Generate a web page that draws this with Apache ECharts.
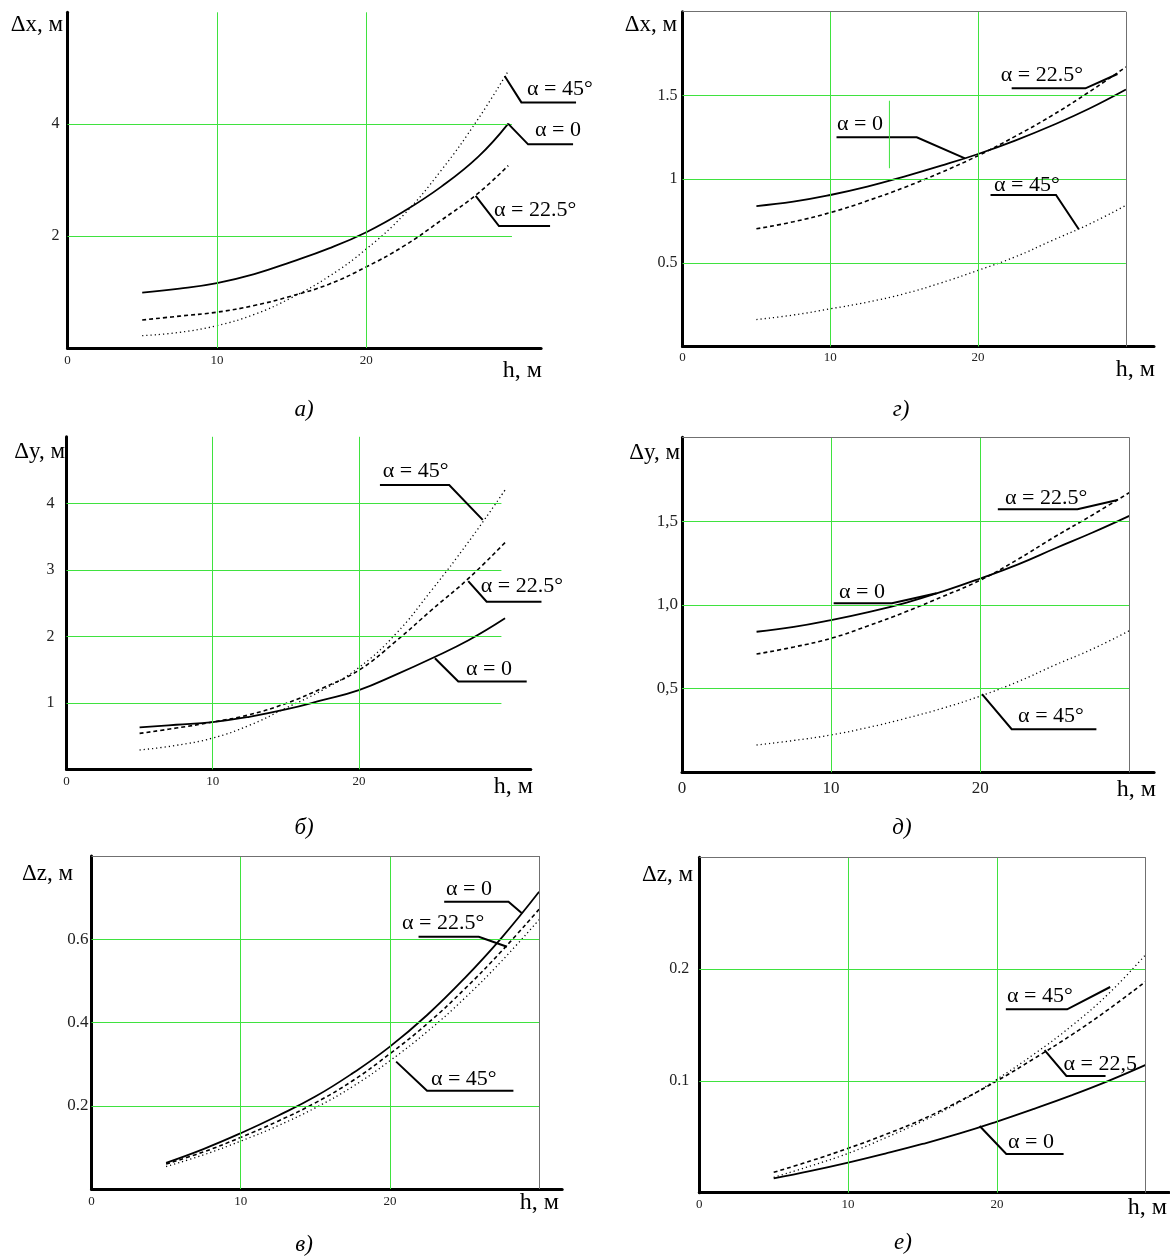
<!DOCTYPE html>
<html><head><meta charset="utf-8">
<script src="https://cdn.jsdelivr.net/npm/echarts@6/dist/echarts.min.js"></script>
<style>html,body{margin:0;padding:0;background:#fff}#c{width:1170px;height:1259px}</style>
</head><body><div id="c"></div>
<script>
// ---------- data ----------
const H   = [5, 7.5, 10, 12.5, 15, 17.5, 20, 22.5, 25, 27.5, 30];
const H_a = [5, 7.5, 10, 12.5, 15, 17.5, 20, 22.5, 25, 27.5, 29.5];

// а) Δx
const a_alpha0   = [0.99, 1.06, 1.16, 1.32, 1.54, 1.78, 2.07, 2.44, 2.88, 3.42, 4.01];
const a_alpha225 = [0.50, 0.57, 0.64, 0.76, 0.93, 1.14, 1.45, 1.82, 2.28, 2.77, 3.26];
const a_alpha45  = [0.22, 0.28, 0.40, 0.60, 0.90, 1.28, 1.77, 2.38, 3.17, 4.10, 4.95];
// г) Δx
const g_alpha0   = [0.839, 0.865, 0.905, 0.955, 1.015, 1.08, 1.15, 1.23, 1.32, 1.42, 1.535];
const g_alpha225 = [0.703, 0.745, 0.80, 0.87, 0.95, 1.04, 1.14, 1.255, 1.38, 1.52, 1.67];
const g_alpha45  = [0.161, 0.188, 0.225, 0.265, 0.315, 0.38, 0.455, 0.535, 0.633, 0.73, 0.843];
// б) Δy
const b_alpha0   = [0.63, 0.67, 0.71, 0.79, 0.90, 1.04, 1.19, 1.42, 1.67, 1.94, 2.27];
const b_alpha225 = [0.54, 0.62, 0.71, 0.82, 0.99, 1.22, 1.49, 1.92, 2.40, 2.87, 3.41];
const b_alpha45  = [0.29, 0.36, 0.47, 0.66, 0.92, 1.19, 1.53, 2.03, 2.70, 3.42, 4.20];
// д) Δy
const d_alpha0   = [0.839, 0.868, 0.909, 0.957, 1.012, 1.08, 1.157, 1.24, 1.336, 1.43, 1.531];
const d_alpha225 = [0.706, 0.748, 0.80, 0.875, 0.958, 1.05, 1.147, 1.27, 1.406, 1.535, 1.67];
const d_alpha45  = [0.163, 0.19, 0.223, 0.268, 0.322, 0.383, 0.455, 0.54, 0.64, 0.735, 0.845];
// в) Δz
const v_alpha0   = [0.063, 0.096, 0.134, 0.176, 0.222, 0.278, 0.342, 0.418, 0.506, 0.604, 0.714];
const v_alpha225 = [0.060, 0.089, 0.124, 0.163, 0.207, 0.260, 0.325, 0.397, 0.480, 0.572, 0.672];
const v_alpha45  = [0.054, 0.082, 0.115, 0.152, 0.195, 0.246, 0.308, 0.378, 0.458, 0.548, 0.647];
// е) Δz
const e_alpha0   = [0.0128, 0.0195, 0.0269, 0.035, 0.0436, 0.053, 0.0636, 0.075, 0.087, 0.100, 0.1143];
const e_alpha225 = [0.0182, 0.0285, 0.0397, 0.052, 0.0657, 0.082, 0.100, 0.120, 0.141, 0.164, 0.189];
const e_alpha45  = [0.0137, 0.024, 0.0352, 0.049, 0.064, 0.081, 0.1015, 0.124, 0.149, 0.178, 0.213];

const xGrid = [10, 20];

// ---------- layout / styling ----------
const FONT = '"Liberation Serif", "Times New Roman", serif';
const GREEN = '#3fe23f', BORDER = '#707070';
const lineStyles = [
  {type: 'solid', width: 1.8},
  {type: [4, 3], width: 1.6},
  {type: [1.2, 3], width: 1.3}
];
const commaFmt = v => v.toFixed(1).replace('.', ',');

const panels = [
  { grid:{left:67.5, top:12.3, width:473.6, height:335.7}, xMax:31.7, yMax:6, yInt:2, box:false, gridEnd:29.75,
    yLabMargin:8, yLabSize:16, xLabSize:13, xLabMargin:6, h:H_a, series:[a_alpha0, a_alpha225, a_alpha45],
    notes:[
      {text:'α = 45°',   pts:[[29.26,4.86],[30.38,4.39],[34.04,4.39]], at:[30.76,4.63]},
      {text:'α = 0',     pts:[[29.49,4.01],[30.83,3.64],[33.84,3.64]], at:[31.29,3.90]},
      {text:'α = 22.5°', pts:[[27.32,2.72],[28.88,2.18],[32.30,2.18]], at:[28.55,2.47]}
    ]},
  { grid:{left:682.5, top:11.7, width:471.5, height:334.8}, xMax:31.9, yMax:2, yInt:0.5, box:true, gridEnd:30,
    yLabMargin:5, yLabSize:16, xLabSize:13, xLabMargin:5, h:H, series:[g_alpha0, g_alpha225, g_alpha45],
    notes:[
      {text:'α = 22.5°', pts:[[22.27,1.542],[27.26,1.542],[29.43,1.628]], at:[21.53,1.622]},
      {text:'α = 0',     pts:[[10.42,1.25],[15.85,1.25],[19.11,1.124]], at:[10.45,1.325]},
      {text:'α = 45°',   pts:[[20.84,0.905],[25.27,0.905],[26.81,0.70]], at:[21.08,0.965]},
      {pts:[[14.0,1.468],[14.0,1.065]], color:GREEN, width:1}
    ]},
  { grid:{left:66.5, top:436.8, width:464.3, height:332.5}, xMax:31.76, yMax:5, yInt:1, box:false, gridEnd:29.75,
    yLabMargin:12, yLabSize:16, xLabSize:13, xLabMargin:6, h:H, series:[b_alpha0, b_alpha225, b_alpha45],
    notes:[
      {text:'α = 45°',   pts:[[21.44,4.275],[26.18,4.275],[28.47,3.75]], at:[21.63,4.475]},
      {text:'α = 22.5°', pts:[[27.48,2.83],[28.74,2.52],[32.49,2.52]], at:[28.34,2.746]},
      {text:'α = 0',     pts:[[25.2,1.67],[26.8,1.32],[31.48,1.32]], at:[27.33,1.504]}
    ]},
  { grid:{left:682, top:437.3, width:472.1, height:335}, xMax:31.66, yMax:2, yInt:0.5, box:true, gridEnd:30,
    yLabMargin:4, yLabSize:17, xLabSize:17, xLabMargin:8, yFmt:commaFmt, h:H, series:[d_alpha0, d_alpha225, d_alpha45],
    notes:[
      {text:'α = 22.5°', pts:[[21.18,1.57],[26.52,1.57],[29.21,1.626]], at:[21.66,1.636]},
      {text:'α = 0',     pts:[[10.17,1.009],[14.08,1.009],[17.07,1.069]], at:[10.53,1.078]},
      {text:'α = 45°',   pts:[[20.12,0.467],[22.11,0.257],[27.79,0.257]], at:[22.54,0.332]}
    ]},
  { grid:{left:91.5, top:856, width:470.7, height:333}, xMax:31.55, yMax:0.8, yInt:0.2, box:true, gridEnd:30,
    yLabMargin:3, yLabSize:17, xLabSize:13, xLabMargin:6, h:H, series:[v_alpha0, v_alpha225, v_alpha45],
    notes:[
      {text:'α = 0',     pts:[[23.64,0.69],[27.95,0.69],[28.87,0.662]], at:[23.76,0.72]},
      {text:'α = 22.5°', pts:[[21.92,0.606],[25.96,0.606],[27.85,0.582]], at:[20.81,0.638]},
      {text:'α = 45°',   pts:[[20.42,0.306],[22.49,0.236],[28.28,0.236]], at:[22.75,0.264]}
    ]},
  { grid:{left:699.3, top:857.3, width:469.8, height:335.4}, xMax:31.57, yMax:0.3, yInt:0.1, box:true, gridEnd:30,
    yLabMargin:10, yLabSize:16, xLabSize:13, xLabMargin:5, h:H, series:[e_alpha0, e_alpha225, e_alpha45],
    notes:[
      {text:'α = 45°',  pts:[[20.6,0.164],[24.72,0.164],[27.61,0.184]], at:[20.68,0.1753]},
      {text:'α = 22,5', pts:[[23.2,0.1276],[24.67,0.1044],[27.3,0.1044]], at:[24.48,0.1151]},
      {text:'α = 0',    pts:[[18.84,0.0597],[20.63,0.0346],[24.48,0.0346]], at:[20.75,0.0456]}
    ]}
];

const texts = [
  {t:'Δx, м', x:63,   y:25,   a:'right', s:23},
  {t:'Δx, м', x:677,  y:25,   a:'right', s:23},
  {t:'Δy, м', x:65,   y:452,  a:'right', s:23},
  {t:'Δy, м', x:680,  y:453,  a:'right', s:23},
  {t:'Δz, м', x:73,   y:874,  a:'right', s:23},
  {t:'Δz, м', x:693,  y:875,  a:'right', s:23},
  {t:'h, м',  x:542,  y:371,  a:'right', s:24},
  {t:'h, м',  x:1155, y:370,  a:'right', s:24},
  {t:'h, м',  x:533,  y:787,  a:'right', s:24},
  {t:'h, м',  x:1156, y:790,  a:'right', s:24},
  {t:'h, м',  x:559,  y:1203, a:'right', s:24},
  {t:'h, м',  x:1167, y:1208, a:'right', s:24},
  {t:'а)', x:304, y:410,  a:'center', s:23, i:true},
  {t:'г)', x:901, y:410,  a:'center', s:23, i:true},
  {t:'б)', x:304, y:828,  a:'center', s:23, i:true},
  {t:'д)', x:902, y:828,  a:'center', s:23, i:true},
  {t:'в)', x:304, y:1245, a:'center', s:23, i:true},
  {t:'е)', x:903, y:1243, a:'center', s:23, i:true}
];

// ---------- build option ----------
const chart = echarts.init(document.getElementById('c'), null, {renderer:'canvas'});
const grids = [], xAxes = [], yAxes = [], series = [];
const round = v => +(+v).toFixed(6);

panels.forEach((p, i) => {
  grids.push(Object.assign({containLabel:false, outerBoundsMode:'none', show:false}, p.grid));
  xAxes.push({
    type:'value', gridIndex:i, min:0, max:p.xMax, interval:10,
    axisLine:{show:true, onZero:false, lineStyle:{color:'#000', width:3}},
    axisTick:{show:false}, splitLine:{show:false},
    axisLabel:{show:true, margin:p.xLabMargin, fontSize:p.xLabSize, fontFamily:FONT, color:'#222',
      showMaxLabel:false, formatter: v => (round(v) < 30 ? String(round(v)) : '')}
  });
  yAxes.push({
    type:'value', gridIndex:i, min:0, max:p.yMax, interval:p.yInt,
    axisLine:{show:true, onZero:false, lineStyle:{color:'#000', width:3}},
    axisTick:{show:false}, splitLine:{show:false},
    axisLabel:{show:true, margin:p.yLabMargin, fontSize:p.yLabSize, fontFamily:FONT, color:'#222',
      showMinLabel:false, showMaxLabel:false, formatter: p.yFmt ? (v => p.yFmt(round(v))) : (v => String(round(v)))}
  });

  // grid lines (green) at tick values
  const gl = [];
  xGrid.forEach(x => gl.push([{coord:[x, 0]}, {coord:[x, p.yMax]}]));
  for (let k = 1; round(k * p.yInt) < p.yMax - 1e-9; k++) {
    const y = round(k * p.yInt);
    gl.push([{coord:[0, y]}, {coord:[p.gridEnd, y]}]);
  }
  series.push({
    type:'line', xAxisIndex:i, yAxisIndex:i, data:[], z:1, silent:true, animation:false,
    markLine:{silent:true, symbol:['none','none'], animation:false, label:{show:false},
      emphasis:{disabled:true}, lineStyle:{color:GREEN, width:1, type:'solid'}, data:gl}
  });
  if (p.box) {
    series.push({
      type:'line', xAxisIndex:i, yAxisIndex:i, data:[], z:1, silent:true, animation:false,
      markLine:{silent:true, symbol:['none','none'], animation:false, label:{show:false},
        emphasis:{disabled:true}, lineStyle:{color:BORDER, width:1, type:'solid'},
        data:[
          [{coord:[0, p.yMax]}, {coord:[30, p.yMax]}],
          [{coord:[30, 0]}, {coord:[30, p.yMax]}]
        ]}
    });
  }
  p.series.forEach((vals, k) => {
    series.push({
      type:'line', xAxisIndex:i, yAxisIndex:i, z:3, silent:true, animation:false,
      data: p.h.map((h, j) => [h, vals[j]]),
      showSymbol:false, smooth:0.45,
      lineStyle:{color:'#000', width:lineStyles[k].width, type:lineStyles[k].type}
    });
  });
});

chart.setOption({
  backgroundColor:'#fff', animation:false,
  grid:grids, xAxis:xAxes, yAxis:yAxes, series:series
});

// ---------- annotations (leader lines + labels) ----------
const gfx = [];
panels.forEach((p, i) => {
  p.notes.forEach(n => {
    const pts = n.pts.map(q => chart.convertToPixel({gridIndex:i}, q));
    gfx.push({type:'polyline', silent:true, z:50, shape:{points:pts},
      style:{stroke:n.color || '#000', lineWidth:n.width || 2, fill:null}});
    if (n.text) {
      const t = chart.convertToPixel({gridIndex:i}, n.at);
      gfx.push({type:'text', silent:true, z:51, x:t[0], y:t[1],
        style:{text:n.text, fill:'#000', font:'22px ' + FONT,
          textAlign:'left', textVerticalAlign:'middle', align:'left', verticalAlign:'middle'}});
    }
  });
});
texts.forEach(o => {
  gfx.push({type:'text', silent:true, z:51, x:o.x, y:o.y,
    style:{text:o.t, fill:'#000', font:(o.i ? 'italic ' : '') + o.s + 'px ' + FONT,
      textAlign:o.a, textVerticalAlign:'middle', align:o.a, verticalAlign:'middle'}});
});
chart.setOption({graphic:gfx});
</script>
</body></html>
